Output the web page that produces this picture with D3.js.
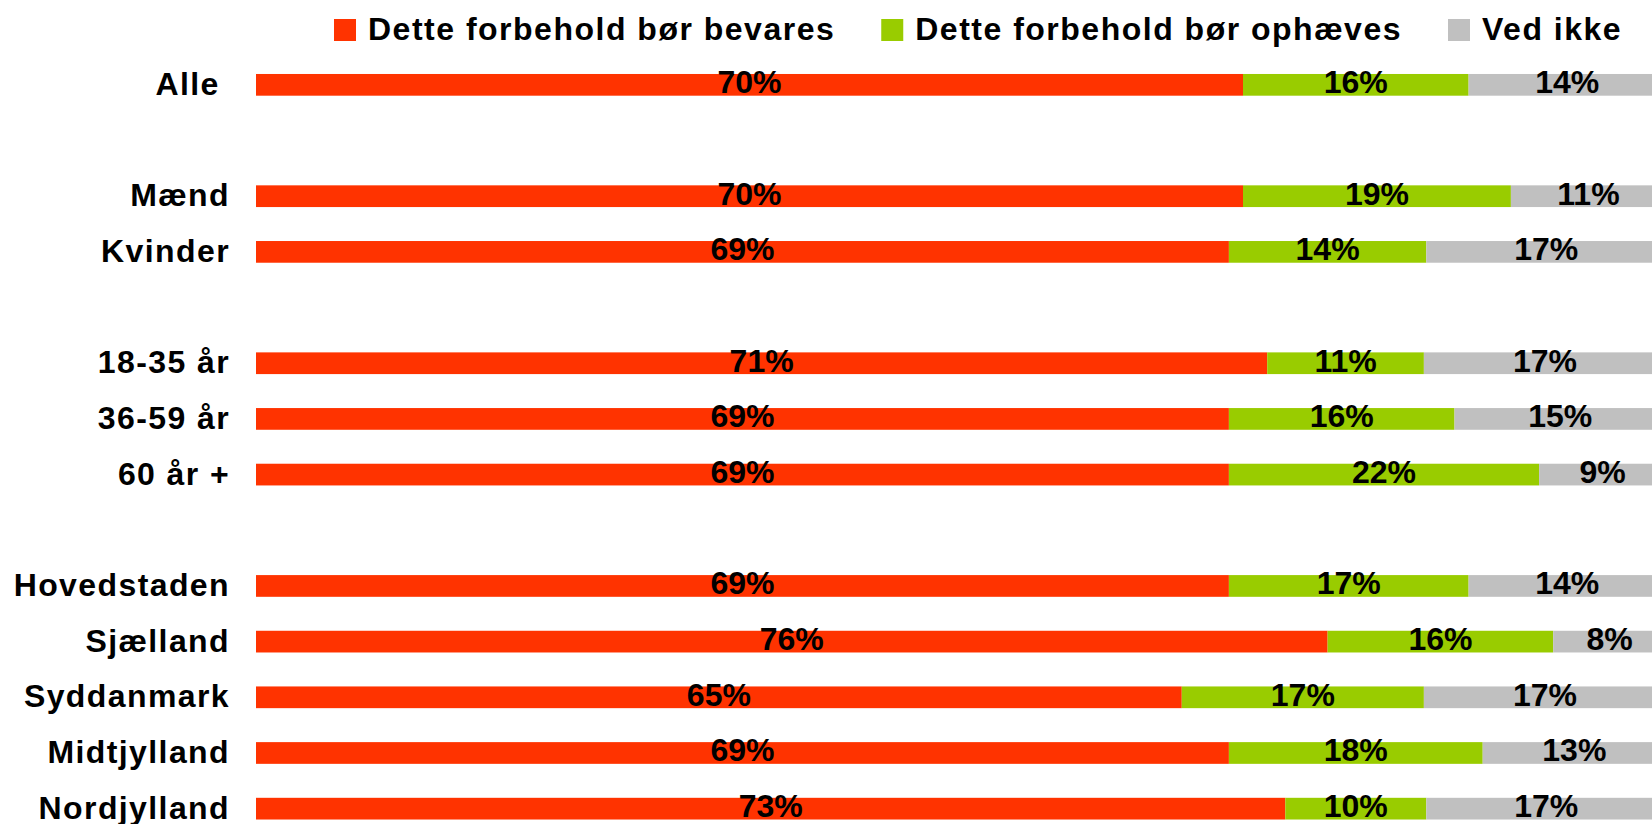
<!DOCTYPE html>
<html>
<head>
<meta charset="utf-8">
<script src="https://cdn.jsdelivr.net/npm/d3@7"></script>
<style>
  html, body { margin: 0; padding: 0; background: #fff; overflow: hidden; }
  svg { display: block; font-family: "Liberation Sans", Arial, sans-serif; font-weight: bold; }
</style>
</head>
<body>
<svg id="chart"></svg>
<script>
var width = 1652;
var height = 824;

// rows, with empty strings as spacer rows between groups
var categories = ['Alle ', '', 'Mænd', 'Kvinder', '', '18-35 år', '36-59 år', '60 år +', '',
  'Hovedstaden', 'Sjælland', 'Syddanmark', 'Midtjylland', 'Nordjylland'];
var bevares = [70, null, 70, 69, null, 71, 69, 69, null, 69, 76, 65, 69, 73];
var ophaeves = [16, null, 19, 14, null, 11, 16, 22, null, 17, 16, 17, 18, 10];
var vedIkke = [14, null, 11, 17, null, 17, 15, 9, null, 14, 8, 17, 13, 17];

var seriesNames = ['Dette forbehold bør bevares', 'Dette forbehold bør ophæves', 'Ved ikke'];
var colors = ['#FF3300', '#99CC00', '#C0C0C0'];

var svg = d3.select('#chart')
  .attr('width', width)
  .attr('height', height);

var x = d3.scaleLinear()
  .domain([0, 1])
  .range([256, 1666]);

var y = d3.scaleBand()
  .domain(d3.range(categories.length))
  .range([57, 836.5])
  .paddingInner(0.61)
  .paddingOuter(0.305);

var rows = categories.map(function(c, i) {
  return { i: i, name: c, values: [bevares[i], ophaeves[i], vedIkke[i]] };
});

// row labels
svg.append('g')
  .selectAll('text')
  .data(rows)
  .enter().append('text')
  .attr('x', 230)
  .attr('y', function(d) { return y(d.i) + y.bandwidth() / 2 + 10; })
  .attr('text-anchor', 'end')
  .style('font-size', '32px')
  .style('letter-spacing', '1.4px')
  .style('white-space', 'pre')
  .text(function(d) { return d.name; });

// stacked segments (100% stacked)
var segs = [];
rows.forEach(function(r) {
  if (r.values[0] == null) return;
  var total = d3.sum(r.values);
  var acc = 0;
  r.values.forEach(function(v, k) {
    segs.push({ i: r.i, k: k, v: v, x0: acc / total, x1: (acc + v) / total });
    acc += v;
  });
});

svg.append('g')
  .selectAll('rect')
  .data(segs)
  .enter().append('rect')
  .attr('x', function(d) { return x(d.x0); })
  .attr('width', function(d) { return x(d.x1) - x(d.x0); })
  .attr('y', function(d) { return y(d.i); })
  .attr('height', y.bandwidth())
  .attr('fill', function(d) { return colors[d.k]; });

svg.append('g')
  .selectAll('text')
  .data(segs)
  .enter().append('text')
  .attr('x', function(d) { return (x(d.x0) + x(d.x1)) / 2; })
  .attr('y', function(d) { return y(d.i) + y.bandwidth() / 2 + 8.5; })
  .attr('text-anchor', 'middle')
  .style('font-size', '32px')
  .text(function(d) { return d.v + '%'; });

// legend
var legend = svg.append('g');
var lx = 334;
seriesNames.forEach(function(name, k) {
  legend.append('rect')
    .attr('x', lx)
    .attr('y', 19)
    .attr('width', 22)
    .attr('height', 22)
    .attr('fill', colors[k]);
  var t = legend.append('text')
    .attr('x', lx + 34)
    .attr('y', 40)
    .style('font-size', '32px')
    .style('letter-spacing', '1.5px')
    .text(name);
  lx = lx + 34 + t.node().getComputedTextLength() + 46;
});
</script>
</body>
</html>
